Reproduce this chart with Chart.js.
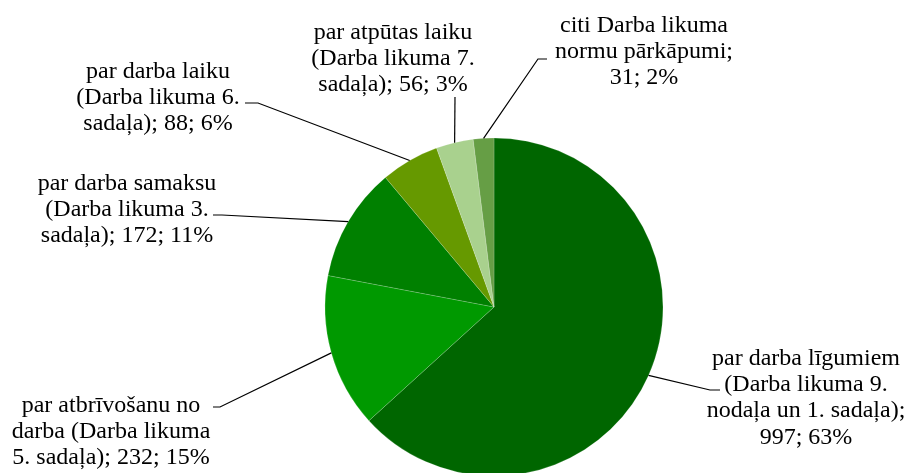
<!DOCTYPE html>
<html>
<head>
<meta charset="utf-8">
<script src="https://cdn.jsdelivr.net/npm/chart.js@4.4.1/dist/chart.umd.min.js"></script>
<style>
  html, body { margin: 0; padding: 0; background: #fff; }
  #wrap { width: 910px; height: 473px; }
</style>
</head>
<body>
<div id="wrap"><canvas id="pie" width="910" height="473"></canvas></div>
<script>
const categories = [
    'par darba līgumiem (Darba likuma 9. nodaļa un 1. sadaļa)',
    'par atbrīvošanu no darba (Darba likuma 5. sadaļa)',
    'par darba samaksu (Darba likuma 3. sadaļa)',
    'par darba laiku (Darba likuma 6. sadaļa)',
    'par atpūtas laiku (Darba likuma 7. sadaļa)',
    'citi Darba likuma normu pārkāpumi'
];
const values = [997, 232, 172, 88, 56, 31];
const percents = [63, 15, 11, 6, 3, 2];
const colors = ['#006600', '#009900', '#008000', '#669900', '#a9d18e', '#669e45'];

// label placement: text centre, first baseline, wrap width, elbow and end of leader line
const labelPos = [
    { cx: 806, y: 365, w: 205, elbow: [710, 390], end: [720, 390] },
    { cx: 111, y: 412, w: 205, elbow: [220, 407], end: [213, 407] },
    { cx: 127, y: 190, w: 185, elbow: [222, 215], end: [213, 215] },
    { cx: 158, y: 78, w: 170, elbow: [258, 103], end: [245, 103] },
    { cx: 393, y: 39, w: 165, elbow: [455, 97], end: [455, 97] },
    { cx: 644, y: 32, w: 190, elbow: [538, 59], end: [547, 59] }
];

const FONT = '24px "Liberation Serif", "Times New Roman", serif';
const LINE_H = 26.2;

function wrapText(ctx, text, maxW) {
    const words = text.split(' ');
    const lines = [];
    let cur = '';
    for (let i = 0; i < words.length; i++) {
        const test = cur ? cur + ' ' + words[i] : words[i];
        if (cur && ctx.measureText(test).width > maxW) {
            lines.push(cur);
            cur = words[i];
        } else {
            cur = test;
        }
    }
    if (cur) lines.push(cur);
    return lines;
}

const outsideLabels = {
    id: 'outsideLabels',
    afterDraw(chart) {
        const ctx = chart.ctx;
        const arcs = chart.getDatasetMeta(0).data;
        ctx.save();
        ctx.font = FONT;
        ctx.fillStyle = '#000';
        ctx.strokeStyle = '#000';
        ctx.lineWidth = 1.2;
        ctx.textAlign = 'center';
        ctx.textBaseline = 'alphabetic';
        arcs.forEach((arc, i) => {
            const p = arc.getProps(['x', 'y', 'startAngle', 'endAngle', 'outerRadius'], true);
            const mid = (p.startAngle + p.endAngle) / 2;
            const ax = p.x + Math.cos(mid) * p.outerRadius;
            const ay = p.y + Math.sin(mid) * p.outerRadius;
            const pos = labelPos[i];
            ctx.beginPath();
            ctx.moveTo(ax, ay);
            ctx.lineTo(pos.elbow[0], pos.elbow[1]);
            ctx.lineTo(pos.end[0], pos.end[1]);
            ctx.stroke();

            const text = categories[i] + '; ' + values[i] + '; ' + percents[i] + '%';
            const lines = wrapText(ctx, text, pos.w);
            lines.forEach((ln, j) => {
                ctx.fillText(ln, pos.cx, pos.y + j * LINE_H);
            });
        });
        ctx.restore();
    }
};

const ctx = document.getElementById('pie').getContext('2d');
const pieChart = new Chart(ctx, {
    type: 'pie',
    data: {
        labels: categories,
        datasets: [{
            data: values,
            backgroundColor: colors,
            borderColor: 'rgba(255, 255, 255, 0.25)',
            borderWidth: 0.7,
            radius: 169
        }]
    },
    options: {
        responsive: false,
        animation: false,
        layout: {
            padding: { left: 325, right: 247, top: 141, bottom: 0 }
        },
        plugins: {
            legend: { display: false },
            tooltip: { enabled: false }
        }
    },
    plugins: [outsideLabels]
});
</script>
</body>
</html>
